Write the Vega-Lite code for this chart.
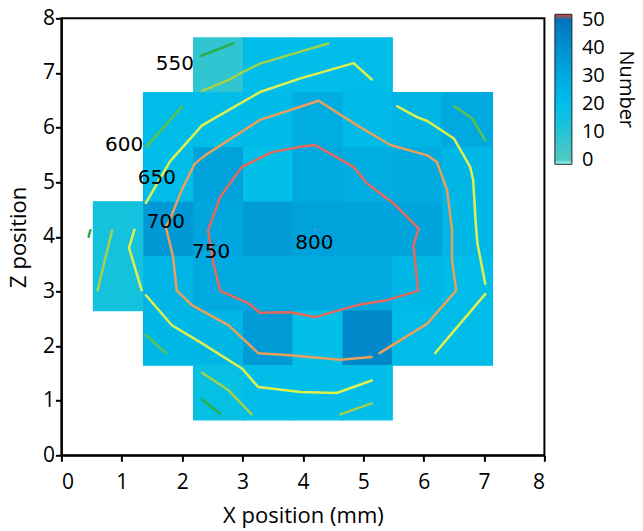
{
  "$schema": "https://vega.github.io/schema/vega-lite/v6.json",
  "autosize": "none",
  "width": 483,
  "height": 437,
  "padding": {"left": 61.4, "top": 18.3, "right": 98.6, "bottom": 75.7},
  "background": "white",
  "config": {
    "view": {"stroke": "black", "strokeWidth": 2},
    "axis": {"domainColor": "black", "domainWidth": 2, "tickColor": "black", "tickWidth": 2, "tickSize": 6, "labelFont": "Open Sans", "labelFontSize": 21, "labelColor": "black", "titleFont": "Open Sans", "titleFontSize": 22, "titleFontWeight": "normal", "titleColor": "black", "grid": false}
  },
  "datasets": {
    "cells": [
      {"x0": 2.19, "x1": 3.01, "z0": 6.64, "z1": 7.64, "n": 8},
      {"x0": 3.01, "x1": 3.83, "z0": 6.64, "z1": 7.64, "n": 20},
      {"x0": 3.83, "x1": 4.66, "z0": 6.64, "z1": 7.64, "n": 20},
      {"x0": 4.66, "x1": 5.48, "z0": 6.64, "z1": 7.64, "n": 21},
      {"x0": 1.36, "x1": 2.19, "z0": 5.64, "z1": 6.64, "n": 21},
      {"x0": 2.19, "x1": 3.01, "z0": 5.64, "z1": 6.64, "n": 21},
      {"x0": 3.01, "x1": 3.83, "z0": 5.64, "z1": 6.64, "n": 22},
      {"x0": 3.83, "x1": 4.66, "z0": 5.64, "z1": 6.64, "n": 28},
      {"x0": 4.66, "x1": 5.48, "z0": 5.64, "z1": 6.64, "n": 22},
      {"x0": 5.48, "x1": 6.31, "z0": 5.64, "z1": 6.64, "n": 25},
      {"x0": 6.31, "x1": 7.14, "z0": 5.64, "z1": 6.64, "n": 30},
      {"x0": 1.36, "x1": 2.19, "z0": 4.64, "z1": 5.64, "n": 21},
      {"x0": 2.19, "x1": 3.01, "z0": 4.64, "z1": 5.64, "n": 33},
      {"x0": 3.01, "x1": 3.83, "z0": 4.64, "z1": 5.64, "n": 19},
      {"x0": 3.83, "x1": 4.66, "z0": 4.64, "z1": 5.64, "n": 30},
      {"x0": 4.66, "x1": 5.48, "z0": 4.64, "z1": 5.64, "n": 28},
      {"x0": 5.48, "x1": 6.31, "z0": 4.64, "z1": 5.64, "n": 29},
      {"x0": 6.31, "x1": 7.14, "z0": 4.64, "z1": 5.64, "n": 24},
      {"x0": 0.53, "x1": 1.36, "z0": 3.65, "z1": 4.64, "n": 14},
      {"x0": 1.36, "x1": 2.19, "z0": 3.65, "z1": 4.64, "n": 37},
      {"x0": 2.19, "x1": 3.01, "z0": 3.65, "z1": 4.64, "n": 31},
      {"x0": 3.01, "x1": 3.83, "z0": 3.65, "z1": 4.64, "n": 36},
      {"x0": 3.83, "x1": 4.66, "z0": 3.65, "z1": 4.64, "n": 33},
      {"x0": 4.66, "x1": 5.48, "z0": 3.65, "z1": 4.64, "n": 32},
      {"x0": 5.48, "x1": 6.31, "z0": 3.65, "z1": 4.64, "n": 32},
      {"x0": 6.31, "x1": 7.14, "z0": 3.65, "z1": 4.64, "n": 23},
      {"x0": 0.53, "x1": 1.36, "z0": 2.65, "z1": 3.65, "n": 14},
      {"x0": 1.36, "x1": 2.19, "z0": 2.65, "z1": 3.65, "n": 25},
      {"x0": 2.19, "x1": 3.01, "z0": 2.65, "z1": 3.65, "n": 30},
      {"x0": 3.01, "x1": 3.83, "z0": 2.65, "z1": 3.65, "n": 30},
      {"x0": 3.83, "x1": 4.66, "z0": 2.65, "z1": 3.65, "n": 30},
      {"x0": 4.66, "x1": 5.48, "z0": 2.65, "z1": 3.65, "n": 30},
      {"x0": 5.48, "x1": 6.31, "z0": 2.65, "z1": 3.65, "n": 23},
      {"x0": 6.31, "x1": 7.14, "z0": 2.65, "z1": 3.65, "n": 21},
      {"x0": 1.36, "x1": 2.19, "z0": 1.65, "z1": 2.65, "n": 23},
      {"x0": 2.19, "x1": 3.01, "z0": 1.65, "z1": 2.65, "n": 24},
      {"x0": 3.01, "x1": 3.83, "z0": 1.65, "z1": 2.65, "n": 36},
      {"x0": 3.83, "x1": 4.66, "z0": 1.65, "z1": 2.65, "n": 19},
      {"x0": 4.66, "x1": 5.48, "z0": 1.65, "z1": 2.65, "n": 43},
      {"x0": 5.48, "x1": 6.31, "z0": 1.65, "z1": 2.65, "n": 21},
      {"x0": 6.31, "x1": 7.14, "z0": 1.65, "z1": 2.65, "n": 21},
      {"x0": 2.19, "x1": 3.01, "z0": 0.65, "z1": 1.65, "n": 17},
      {"x0": 3.01, "x1": 3.83, "z0": 0.65, "z1": 1.65, "n": 20},
      {"x0": 3.83, "x1": 4.66, "z0": 0.65, "z1": 1.65, "n": 20},
      {"x0": 4.66, "x1": 5.48, "z0": 0.65, "z1": 1.65, "n": 20}
    ],
    "contours": [
      {"s": 1, "lv": 550, "i": 0, "x": 2.31, "z": 7.31}, {"s": 1, "lv": 550, "i": 1, "x": 2.85, "z": 7.54},
      {"s": 2, "lv": 600, "i": 0, "x": 2.33, "z": 6.67}, {"s": 2, "lv": 600, "i": 1, "x": 2.77, "z": 6.87}, {"s": 2, "lv": 600, "i": 2, "x": 2.96, "z": 6.99}, {"s": 2, "lv": 600, "i": 3, "x": 3.29, "z": 7.17}, {"s": 2, "lv": 600, "i": 4, "x": 3.96, "z": 7.39}, {"s": 2, "lv": 600, "i": 5, "x": 4.42, "z": 7.54},
      {"s": 3, "lv": 650, "i": 0, "x": 1.40, "z": 4.62}, {"s": 3, "lv": 650, "i": 1, "x": 1.80, "z": 5.38}, {"s": 3, "lv": 650, "i": 2, "x": 2.33, "z": 6.04}, {"s": 3, "lv": 650, "i": 3, "x": 2.77, "z": 6.32}, {"s": 3, "lv": 650, "i": 4, "x": 3.29, "z": 6.65}, {"s": 3, "lv": 650, "i": 5, "x": 3.96, "z": 6.90}, {"s": 3, "lv": 650, "i": 6, "x": 4.84, "z": 7.18}, {"s": 3, "lv": 650, "i": 7, "x": 5.14, "z": 6.88},
      {"s": 4, "lv": 650, "i": 0, "x": 1.21, "z": 4.13}, {"s": 4, "lv": 650, "i": 1, "x": 1.12, "z": 3.80}, {"s": 4, "lv": 650, "i": 2, "x": 1.33, "z": 3.02},
      {"s": 5, "lv": 650, "i": 0, "x": 1.40, "z": 2.93}, {"s": 5, "lv": 650, "i": 1, "x": 1.83, "z": 2.38}, {"s": 5, "lv": 650, "i": 2, "x": 2.33, "z": 2.05}, {"s": 5, "lv": 650, "i": 3, "x": 2.99, "z": 1.59}, {"s": 5, "lv": 650, "i": 4, "x": 3.26, "z": 1.25}, {"s": 5, "lv": 650, "i": 5, "x": 3.96, "z": 1.16}, {"s": 5, "lv": 650, "i": 6, "x": 4.56, "z": 1.14}, {"s": 5, "lv": 650, "i": 7, "x": 5.14, "z": 1.37},
      {"s": 6, "lv": 650, "i": 0, "x": 5.56, "z": 6.39}, {"s": 6, "lv": 650, "i": 1, "x": 5.89, "z": 6.19}, {"s": 6, "lv": 650, "i": 2, "x": 6.06, "z": 6.12}, {"s": 6, "lv": 650, "i": 3, "x": 6.50, "z": 5.80}, {"s": 6, "lv": 650, "i": 4, "x": 6.77, "z": 5.28}, {"s": 6, "lv": 650, "i": 5, "x": 6.82, "z": 5.04}, {"s": 6, "lv": 650, "i": 6, "x": 6.86, "z": 4.30}, {"s": 6, "lv": 650, "i": 7, "x": 6.89, "z": 3.88}, {"s": 6, "lv": 650, "i": 8, "x": 7.02, "z": 3.14},
      {"s": 7, "lv": 650, "i": 0, "x": 7.02, "z": 2.95}, {"s": 7, "lv": 650, "i": 1, "x": 6.19, "z": 1.87},
      {"s": 8, "lv": 575, "i": 0, "x": 1.41, "z": 5.65}, {"s": 8, "lv": 575, "i": 1, "x": 2.00, "z": 6.39},
      {"s": 9, "lv": 600, "i": 0, "x": 0.84, "z": 4.12}, {"s": 9, "lv": 600, "i": 1, "x": 0.60, "z": 3.02},
      {"s": 10, "lv": 550, "i": 0, "x": 0.45, "z": 4.00}, {"s": 10, "lv": 550, "i": 1, "x": 0.48, "z": 4.12},
      {"s": 11, "lv": 575, "i": 0, "x": 1.40, "z": 2.20}, {"s": 11, "lv": 575, "i": 1, "x": 1.73, "z": 1.87},
      {"s": 12, "lv": 600, "i": 0, "x": 2.33, "z": 1.51}, {"s": 12, "lv": 600, "i": 1, "x": 2.77, "z": 1.19}, {"s": 12, "lv": 600, "i": 2, "x": 3.15, "z": 0.75},
      {"s": 13, "lv": 550, "i": 0, "x": 2.33, "z": 1.02}, {"s": 13, "lv": 550, "i": 1, "x": 2.63, "z": 0.76},
      {"s": 14, "lv": 600, "i": 0, "x": 4.62, "z": 0.75}, {"s": 14, "lv": 600, "i": 1, "x": 5.14, "z": 0.95},
      {"s": 15, "lv": 575, "i": 0, "x": 6.51, "z": 6.39}, {"s": 15, "lv": 575, "i": 1, "x": 6.80, "z": 6.17}, {"s": 15, "lv": 575, "i": 2, "x": 7.02, "z": 5.77},
      {"s": 16, "lv": 700, "i": 0, "x": 5.14, "z": 1.80}, {"s": 16, "lv": 700, "i": 1, "x": 4.62, "z": 1.75}, {"s": 16, "lv": 700, "i": 2, "x": 3.79, "z": 1.83}, {"s": 16, "lv": 700, "i": 3, "x": 3.26, "z": 1.87}, {"s": 16, "lv": 700, "i": 4, "x": 2.77, "z": 2.38}, {"s": 16, "lv": 700, "i": 5, "x": 2.16, "z": 2.75}, {"s": 16, "lv": 700, "i": 6, "x": 1.91, "z": 3.02}, {"s": 16, "lv": 700, "i": 7, "x": 1.85, "z": 3.63}, {"s": 16, "lv": 700, "i": 8, "x": 1.73, "z": 4.18}, {"s": 16, "lv": 700, "i": 9, "x": 1.80, "z": 4.32}, {"s": 16, "lv": 700, "i": 10, "x": 1.99, "z": 4.85}, {"s": 16, "lv": 700, "i": 11, "x": 2.21, "z": 5.34}, {"s": 16, "lv": 700, "i": 12, "x": 2.38, "z": 5.49}, {"s": 16, "lv": 700, "i": 13, "x": 3.29, "z": 6.14}, {"s": 16, "lv": 700, "i": 14, "x": 3.96, "z": 6.38}, {"s": 16, "lv": 700, "i": 15, "x": 4.26, "z": 6.49}, {"s": 16, "lv": 700, "i": 16, "x": 4.90, "z": 6.04}, {"s": 16, "lv": 700, "i": 17, "x": 5.45, "z": 5.68}, {"s": 16, "lv": 700, "i": 18, "x": 6.06, "z": 5.49}, {"s": 16, "lv": 700, "i": 19, "x": 6.22, "z": 5.37}, {"s": 16, "lv": 700, "i": 20, "x": 6.39, "z": 4.85}, {"s": 16, "lv": 700, "i": 21, "x": 6.47, "z": 4.12}, {"s": 16, "lv": 700, "i": 22, "x": 6.47, "z": 3.57}, {"s": 16, "lv": 700, "i": 23, "x": 6.54, "z": 3.02}, {"s": 16, "lv": 700, "i": 24, "x": 6.06, "z": 2.41}, {"s": 16, "lv": 700, "i": 25, "x": 5.27, "z": 1.87},
      {"s": 17, "lv": 750, "i": 0, "x": 2.43, "z": 4.12}, {"s": 17, "lv": 750, "i": 1, "x": 2.63, "z": 4.73}, {"s": 17, "lv": 750, "i": 2, "x": 2.99, "z": 5.28}, {"s": 17, "lv": 750, "i": 3, "x": 3.49, "z": 5.55}, {"s": 17, "lv": 750, "i": 4, "x": 3.96, "z": 5.65}, {"s": 17, "lv": 750, "i": 5, "x": 4.20, "z": 5.68}, {"s": 17, "lv": 750, "i": 6, "x": 4.84, "z": 5.28}, {"s": 17, "lv": 750, "i": 7, "x": 5.06, "z": 4.98}, {"s": 17, "lv": 750, "i": 8, "x": 5.50, "z": 4.61}, {"s": 17, "lv": 750, "i": 9, "x": 5.92, "z": 4.15}, {"s": 17, "lv": 750, "i": 10, "x": 5.83, "z": 3.85}, {"s": 17, "lv": 750, "i": 11, "x": 5.91, "z": 3.01}, {"s": 17, "lv": 750, "i": 12, "x": 5.39, "z": 2.84}, {"s": 17, "lv": 750, "i": 13, "x": 4.90, "z": 2.75}, {"s": 17, "lv": 750, "i": 14, "x": 4.20, "z": 2.53}, {"s": 17, "lv": 750, "i": 15, "x": 3.79, "z": 2.62}, {"s": 17, "lv": 750, "i": 16, "x": 3.29, "z": 2.61}, {"s": 17, "lv": 750, "i": 17, "x": 3.10, "z": 2.78}, {"s": 17, "lv": 750, "i": 18, "x": 2.63, "z": 3.01}, {"s": 17, "lv": 750, "i": 19, "x": 2.52, "z": 3.51}, {"s": 17, "lv": 750, "i": 20, "x": 2.43, "z": 4.12}
    ],
    "labels": [
      {"t": "550", "x": 1.88, "z": 7.17},
      {"t": "600", "x": 1.04, "z": 5.68},
      {"t": "650", "x": 1.58, "z": 5.07},
      {"t": "700", "x": 1.73, "z": 4.27},
      {"t": "750", "x": 2.48, "z": 3.72},
      {"t": "800", "x": 4.19, "z": 3.88}
    ],
    "peak": [{"x": 4.20, "z": 4.13}]
  },
  "layer": [
    {
      "data": {"name": "cells"},
      "mark": {"type": "rect", "fill": null, "strokeWidth": 1.2},
      "encoding": {
        "x": {"field": "x0", "type": "quantitative", "scale": {"domain": [0, 8], "nice": false}, "axis": {"title": "X position (mm)", "values": [0, 1, 2, 3, 4, 5, 6, 7, 8], "format": "d", "labelPadding": 10, "titlePadding": 13}},
        "x2": {"field": "x1"},
        "y": {"field": "z0", "type": "quantitative", "scale": {"domain": [0, 8], "nice": false}, "axis": {"title": "Z position", "values": [0, 1, 2, 3, 4, 5, 6, 7, 8], "format": "d", "labelPadding": 1, "titlePadding": 12}},
        "y2": {"field": "z1"},
        "stroke": {
          "field": "n", "type": "quantitative",
          "scale": {"domain": [-1.5, 0, 10, 20, 30, 40, 50, 52], "range": ["#ffffff", "#52c8c0", "#26c4d6", "#00bee9", "#00a9df", "#0092d0", "#0074bb", "#e8402a"], "clamp": true},
          "legend": null
        }
      }
    },
    {
      "data": {"name": "cells"},
      "mark": {"type": "rect", "strokeWidth": 0},
      "encoding": {
        "x": {"field": "x0", "type": "quantitative"},
        "x2": {"field": "x1"},
        "y": {"field": "z0", "type": "quantitative"},
        "y2": {"field": "z1"},
        "color": {
          "field": "n", "type": "quantitative",
          "scale": {"domain": [-1.5, 0, 10, 20, 30, 40, 50, 52], "range": ["#ffffff", "#52c8c0", "#26c4d6", "#00bee9", "#00a9df", "#0092d0", "#0074bb", "#e8402a"], "clamp": true},
          "legend": {"title": "Number", "orient": "none", "legendX": 493.5, "legendY": -4, "direction": "vertical", "gradientLength": 150, "gradientThickness": 17, "values": [0, 10, 20, 30, 40, 50], "titleOrient": "right", "labelFont": "Open Sans", "labelFontSize": 20, "labelColor": "black", "labelOffset": 10, "titleFont": "Open Sans", "titleFontSize": 20, "titleFontWeight": "normal", "titleColor": "black", "titlePadding": 11, "gradientStrokeColor": "#222", "gradientStrokeWidth": 1}
        }
      }
    },
    {
      "data": {"name": "contours"},
      "mark": {"type": "line", "strokeWidth": 2.5, "strokeCap": "round", "strokeJoin": "round"},
      "encoding": {
        "x": {"field": "x", "type": "quantitative"},
        "y": {"field": "z", "type": "quantitative"},
        "detail": {"field": "s", "type": "nominal"},
        "order": {"field": "i", "type": "quantitative"},
        "color": {"field": "lv", "type": "nominal", "scale": {"domain": [550, 575, 600, 650, 700, 750], "range": ["#2aae4a", "#5cc24e", "#a2d24c", "#dff04e", "#e8a05a", "#e56a5c"]}, "legend": null}
      }
    },
    {
      "data": {"name": "peak"},
      "mark": {"type": "point", "filled": true, "size": 5, "color": "#d070d0"},
      "encoding": {
        "x": {"field": "x", "type": "quantitative"},
        "y": {"field": "z", "type": "quantitative"}
      }
    },
    {
      "data": {"name": "labels"},
      "mark": {"type": "text", "font": "DejaVu Sans", "fontSize": 20, "color": "black", "align": "center", "baseline": "middle"},
      "encoding": {
        "x": {"field": "x", "type": "quantitative"},
        "y": {"field": "z", "type": "quantitative"},
        "text": {"field": "t"}
      }
    }
  ],
  "resolve": {"scale": {"color": "independent", "stroke": "independent"}, "legend": {"color": "independent", "stroke": "independent"}}
}
